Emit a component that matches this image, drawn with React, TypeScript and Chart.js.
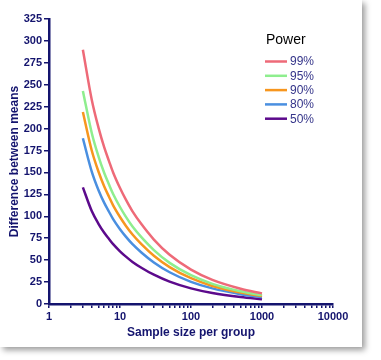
import React, { useEffect, useRef } from "react";
import { Chart, registerables } from "chart.js";

Chart.register(...registerables);

const sampleSizes = [3, 4, 5, 6, 7, 8, 10, 12, 15, 20, 30, 50, 100, 200, 500, 1000];
const power99 = [290, 233, 200.6, 178.6, 163, 150, 132.2, 119.5, 105.6, 91.1, 73.5, 56.1, 39.2, 27.5, 17.4, 12.1];
const power95 = [243, 195, 167.8, 149.4, 136.3, 125.5, 110.6, 99.9, 88.3, 76.2, 61.5, 46.9, 32.8, 23.0, 14.5, 10.1];
const power90 = [219, 175, 150.5, 134, 122.3, 112.5, 99.2, 89.6, 79.2, 68.3, 55.1, 42.1, 29.4, 20.6, 13.0, 9.1];
const power80 = [189, 151, 129.5, 115.3, 105.2, 96.8, 85.3, 77.1, 68.2, 58.8, 47.4, 36.2, 25.3, 17.8, 11.2, 7.8];
const power50 = [133, 106, 91.2, 81.2, 74.1, 68.2, 60.1, 54.3, 48.0, 41.4, 33.4, 25.5, 17.8, 12.5, 7.9, 5.5];

const seriesLabels = ["99%", "95%", "90%", "80%", "50%"];
const seriesValues = [power99, power95, power90, power80, power50];
const seriesColors = ["#ee6a78", "#8eee8e", "#f7961e", "#4a8fe0", "#5c0a8c"];

const xTickValues = [1, 2, 3, 4, 5, 6, 7, 8, 9, 10, 20, 30, 40, 50, 60, 70, 80, 90, 100, 200, 300, 400, 500, 600, 700, 800, 900, 1000, 2000, 3000, 4000, 5000, 6000, 7000, 8000, 9000, 10000];
const xLabelValues = [1, 10, 100, 1000, 10000];

const xTitle = "Sample size per group";
const yTitle = "Difference between means";
const legendTitle = "Power";

const NAVY = "#14146e";
const FONT = "'Liberation Sans', Arial, Helvetica, sans-serif";

const legendPlugin = {
  id: "powerLegend",
  afterDraw(chart: any) {
    const { ctx, chartArea } = chart;
    const x0 = chartArea.right - 68;
    const y0 = chartArea.top + 21;
    ctx.save();
    ctx.font = `14px ${FONT}`;
    ctx.fillStyle = "#000000";
    ctx.textBaseline = "middle";
    ctx.textAlign = "left";
    ctx.fillText(legendTitle, x0 + 1, y0);
    ctx.font = `12px ${FONT}`;
    chart.data.datasets.forEach((ds: any, i: number) => {
      const y = y0 + 21.5 + i * 14.3;
      ctx.strokeStyle = ds.borderColor;
      ctx.lineWidth = 2.5;
      ctx.beginPath();
      ctx.moveTo(x0, y);
      ctx.lineTo(x0 + 22, y);
      ctx.stroke();
      ctx.fillStyle = "#35358a";
      ctx.fillText(ds.label, x0 + 25, y + 0.5);
    });
    ctx.restore();
  },
};

export default function App() {
  const canvasRef = useRef<HTMLCanvasElement | null>(null);

  useEffect(() => {
    if (!canvasRef.current) return;
    const chart = new Chart(canvasRef.current, {
      type: "line",
      data: {
        datasets: seriesLabels.map((label, i) => ({
          label,
          data: sampleSizes.map((n, j) => ({ x: n, y: seriesValues[i][j] })),
          borderColor: seriesColors[i],
          backgroundColor: seriesColors[i],
          borderWidth: 2.5,
          pointRadius: 0,
          fill: false,
          cubicInterpolationMode: "monotone" as const,
        })),
      },
      options: {
        animation: false,
        responsive: false,
        maintainAspectRatio: false,
        layout: { padding: { left: 3, right: 29, top: 19, bottom: 3 } },
        plugins: {
          legend: { display: false },
          tooltip: { enabled: false },
        },
        scales: {
          x: {
            type: "logarithmic",
            min: 1,
            max: 10000,
            afterBuildTicks(scale: any) {
              scale.ticks = xTickValues.map((v) => ({ value: v, major: xLabelValues.includes(v) }));
            },
            afterFit(scale: any) {
              scale.height = 40;
            },
            border: { display: true, color: NAVY, width: 2.5 },
            grid: { drawOnChartArea: false, drawTicks: true, tickLength: 4, color: NAVY, lineWidth: 1.5 },
            ticks: {
              autoSkip: false,
              maxRotation: 0,
              padding: 2,
              color: NAVY,
              font: { family: FONT, size: 11, weight: "bold" },
              callback: (v: any) => (xLabelValues.includes(Number(v)) ? String(v) : ""),
            },
            title: {
              display: true,
              text: xTitle,
              color: NAVY,
              font: { family: FONT, size: 12, weight: "bold" },
              padding: { top: 4, bottom: 4 },
            },
          },
          y: {
            type: "linear",
            min: 0,
            max: 325,
            afterFit(scale: any) {
              scale.width = 46;
            },
            border: { display: true, color: NAVY, width: 2.5 },
            grid: { drawOnChartArea: false, drawTicks: true, tickLength: 5, color: NAVY, lineWidth: 1.5 },
            ticks: {
              stepSize: 25,
              padding: 2,
              color: NAVY,
              font: { family: FONT, size: 11, weight: "bold" },
            },
            title: {
              display: true,
              text: yTitle,
              color: NAVY,
              font: { family: FONT, size: 12, weight: "bold" },
              padding: { top: 4, bottom: 4 },
            },
          },
        },
      },
      plugins: [legendPlugin],
    } as any);
    return () => chart.destroy();
  }, []);

  return (
    <div style={{ position: "fixed", left: 0, top: 0, width: 381, height: 360, background: "#ffffff" }}>
      <div
        style={{
          position: "absolute",
          left: 0,
          top: 0,
          width: 362,
          height: 347,
          background: "#ffffff",
          boxShadow: "3px 3px 6px rgba(0,0,0,0.4)",
        }}
      >
        <canvas ref={canvasRef} width={362} height={347} style={{ display: "block" }} />
      </div>
    </div>
  );
}
